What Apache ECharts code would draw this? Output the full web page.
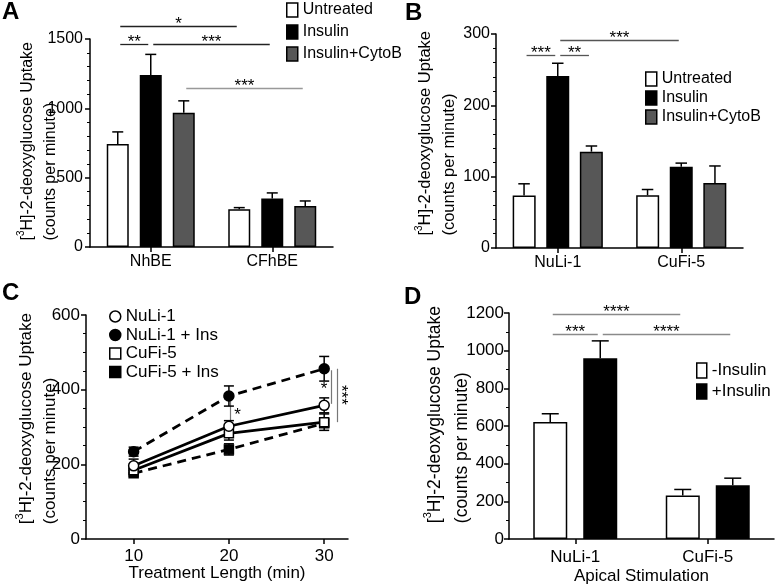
<!DOCTYPE html>
<html><head><meta charset="utf-8">
<script src="https://cdn.jsdelivr.net/npm/echarts@6/dist/echarts.min.js"></script>
<style>html,body{margin:0;padding:0;background:#fff}#c{width:776px;height:585px}</style>
</head><body><div id="c"></div><script>
// ---------- DATA ----------
// Panel A
const catA = ['NhBE', 'CFhBE'];
const untreatedA = [742, 272];
const untreatedAErr = [88, 12];
const insulinA = [1240, 349];
const insulinAErr = [149, 41];
const cytoA = [968, 296];
const cytoAErr = [86, 36];
// significance: [cat1, bar1, cat2, bar2, level, label]
const sigA = [[0, 0, 1, 0, 1596, '*'], [0, 0, 0, 1, 1464, '**'], [0, 1, 1, 1, 1464, '***'], [0, 2, 1, 2, 1148, '***']];

// Panel B
const catB = ['NuLi-1', 'CuFi-5'];
const untreatedB = [73.5, 74];
const untreatedBErr = [16.5, 8];
const insulinB = [241, 114];
const insulinBErr = [18, 5];
const cytoB = [135, 91];
const cytoBErr = [8, 24];
const sigB = [[0, 0, 0, 1, 271, '***'], [0, 1, 0, 2, 271, '**'], [0, 1, 1, 1, 292, '***']];

// Panel C
const timesC = [10, 20, 30];
const nuli = [196, 302, 358];
const nuliErr = [18, 15, 20];
const nuliIns = [234, 383, 456];
const nuliInsErr = [12, 27, 33];
const cufi = [184, 283, 313];
const cufiErr = [10, 18, 22];
const cufiIns = [176, 240, 310];
const cufiInsErr = [8, 15, 10];
// vertical significance lines: [x, y1, y2]; labels: [x, y, text]
const sigCLines = [[20.1, 380, 305], [30.7, 452, 362], [31.3, 456, 313]];
const sigCLabels = [[20.9, 340, '*'], [30, 410, '*'], [32.0, 386, '***']];

// Panel D
const catD = ['NuLi-1', 'CuFi-5'];
const minusInsD = [621, 231];
const minusInsDErr = [44, 32];
const plusInsD = [960, 286];
const plusInsDErr = [92, 37];
const sigD = [[0, 0, 1, 0, 1197, '****'], [0, 0, 0, 1, 1087, '***'], [0, 1, 1, 1, 1087, '****']];

// ---------- HELPERS ----------
const FONT = 'Liberation Sans, Arial, Helvetica, sans-serif';
const chart = echarts.init(document.getElementById('c'), null, {renderer: 'canvas'});

function yTitleGraphic(left, top, fs, lh) {
  const sfs = Math.round(fs * 0.62);
  return {
    type: 'text', left: left, top: top, rotation: Math.PI / 2, silent: true,
    style: {
      text: '{t|[}{s|3}{t|H]-2-deoxyglucose Uptake}\n{t|(counts per minute)}',
      align: 'center', verticalAlign: 'middle', fill: '#000',
      font: fs + 'px ' + FONT,
      rich: {
        t: {fontSize: fs, fontFamily: FONT, fill: '#000', lineHeight: lh},
        s: {fontSize: sfs, fontFamily: FONT, fill: '#000', verticalAlign: 'top', lineHeight: sfs + 3}
      }
    }
  };
}

function valueY(grid, max, interval, minorSplit, fs, labelMargin) {
  return {
    type: 'value', gridIndex: grid, min: 0, max: max, interval: interval,
    axisLine: {show: true, lineStyle: {color: '#000', width: 1.5}},
    axisTick: {show: true, length: 5, lineStyle: {color: '#000', width: 1.5}},
    minorTick: {show: true, splitNumber: minorSplit, length: 3, lineStyle: {color: '#000', width: 1}},
    axisLabel: {color: '#000', fontSize: fs, fontFamily: FONT, margin: labelMargin, formatter: (v) => String(v)},
    splitLine: {show: false}, minorSplitLine: {show: false}
  };
}

function catX(grid, cats, fs, margin, name, nameGap) {
  const o = {
    type: 'category', gridIndex: grid, data: cats, boundaryGap: true,
    axisLine: {show: true, lineStyle: {color: '#000', width: 1.5}},
    axisTick: {show: true, alignWithLabel: true, length: 5, lineStyle: {color: '#000', width: 1.5}},
    axisLabel: {color: '#000', fontSize: fs, fontFamily: FONT, margin: margin},
    splitLine: {show: false}
  };
  if (name) {
    o.name = name; o.nameLocation = 'middle'; o.nameGap = nameGap; o.nameMoveOverlap = false;
    o.nameTextStyle = {color: '#000', fontSize: fs, fontFamily: FONT};
  }
  return o;
}

function barSeries(name, grid, values, color, bw, gap) {
  return {
    name: name, type: 'bar', xAxisIndex: grid, yAxisIndex: grid, data: values,
    barWidth: bw, barGap: gap,
    itemStyle: {color: color, borderColor: '#000', borderWidth: 1.5},
    emphasis: {disabled: true}, z: 2
  };
}

function errSeries(grid, values, errs, offset, capHalf) {
  return {
    type: 'custom', xAxisIndex: grid, yAxisIndex: grid, z: 3, silent: true,
    data: values.map((v, i) => [i, v, errs[i]]),
    encode: {x: 0, y: 1},
    renderItem: function (params, api) {
      const c = api.value(0), v = api.value(1), e = api.value(2);
      const p0 = api.coord([c, v]);
      const p1 = api.coord([c, v + e]);
      const cx = p0[0] + offset;
      return {type: 'group', children: [
        {type: 'line', shape: {x1: cx, y1: p0[1], x2: cx, y2: p1[1]}, style: {stroke: '#000', lineWidth: 1.5}},
        {type: 'line', shape: {x1: cx - capHalf, y1: p1[1], x2: cx + capHalf, y2: p1[1]}, style: {stroke: '#000', lineWidth: 1.5}}
      ]};
    }
  };
}

function sigSeries(grid, sigs, step, nBars, colors, fs) {
  return {
    type: 'custom', xAxisIndex: grid, yAxisIndex: grid, z: 4, silent: true,
    data: sigs.map(s => [s[0], s[4]]),
    encode: {x: 0, y: 1},
    renderItem: function (params, api) {
      const s = sigs[params.dataIndex];
      const off = (b) => (b - (nBars - 1) / 2) * step;
      const pa = api.coord([s[0], s[4]]);
      const pb = api.coord([s[2], s[4]]);
      const x1 = pa[0] + off(s[1]) + 2.5, x2 = pb[0] + off(s[3]) - 2.5;
      const y = Math.round(pa[1]) + 0.5;
      return {type: 'group', children: [
        {type: 'line', shape: {x1: x1, y1: y, x2: x2, y2: y}, style: {stroke: colors[params.dataIndex], lineWidth: 1.3}},
        {type: 'text', style: {text: s[5], x: (x1 + x2) / 2, y: y - 2, align: 'center', verticalAlign: 'middle',
          font: fs + 'px ' + FONT, fill: '#000'}}
      ]};
    }
  };
}

function errSeriesC(values, errs) {
  return {
    type: 'custom', xAxisIndex: 2, yAxisIndex: 2, z: 1, silent: true,
    data: values.map((v, i) => [timesC[i], v, errs[i]]),
    encode: {x: 0, y: 1},
    renderItem: function (params, api) {
      const x = api.value(0), v = api.value(1), e = api.value(2);
      const pT = api.coord([x, v + e]), pB = api.coord([x, v - e]);
      const cx = pT[0];
      const st = {stroke: '#000', lineWidth: 1.5};
      return {type: 'group', children: [
        {type: 'line', shape: {x1: cx, y1: pT[1], x2: cx, y2: pB[1]}, style: st},
        {type: 'line', shape: {x1: cx - 5, y1: pT[1], x2: cx + 5, y2: pT[1]}, style: st},
        {type: 'line', shape: {x1: cx - 5, y1: pB[1], x2: cx + 5, y2: pB[1]}, style: st}
      ]};
    }
  };
}

function lineSeries(name, values, symbol, fill, dashed, size) {
  return {
    name: name, type: 'line', xAxisIndex: 2, yAxisIndex: 2,
    data: values.map((v, i) => [timesC[i], v]),
    symbol: symbol, symbolSize: size, showSymbol: true,
    lineStyle: {color: '#000', width: 2.8, type: dashed ? [9, 6] : 'solid'},
    itemStyle: {color: fill, borderColor: '#000', borderWidth: 1.5},
    emphasis: {disabled: true}, z: 2
  };
}

// bar geometry (px)
const bwA = 22, stepA = 33;
const bwB = 23, stepB = 33.7;
const bwD = 34, stepD = 50;
const GRAY = '#575757';
const boxW = {color: '#fff', borderColor: '#000', borderWidth: 1.5};
const boxK = {color: '#000', borderColor: '#000', borderWidth: 1.5};
const boxG = {color: GRAY, borderColor: '#000', borderWidth: 1.5};

const option = {
  animation: false,
  backgroundColor: '#fff',
  textStyle: {fontFamily: FONT, color: '#000'},
  grid: [
    {left: 90, top: 39, width: 243, height: 208, outerBoundsMode: 'none'},
    {left: 496, top: 34, width: 247, height: 214, outerBoundsMode: 'none'},
    {left: 86, top: 315, width: 262, height: 224, outerBoundsMode: 'none'},
    {left: 509, top: 313, width: 265, height: 226, outerBoundsMode: 'none'}
  ],
  xAxis: [
    catX(0, catA, 16, 7),
    catX(1, catB, 16, 7),
    {
      type: 'value', gridIndex: 2, min: 5, max: 32.5,
      name: 'Treatment Length (min)', nameLocation: 'middle', nameGap: 26, nameMoveOverlap: false,
      nameTextStyle: {color: '#000', fontSize: 17, fontFamily: FONT},
      axisLine: {show: true, lineStyle: {color: '#000', width: 1.5}},
      axisTick: {show: true, length: 5, customValues: timesC, lineStyle: {color: '#000', width: 1.5}},
      axisLabel: {color: '#000', fontSize: 17, fontFamily: FONT, margin: 9, customValues: timesC},
      splitLine: {show: false}
    },
    catX(3, catD, 17, 10, 'Apical Stimulation', 29)
  ],
  yAxis: [
    valueY(0, 1500, 500, 5, 16, 7),
    valueY(1, 300, 100, 5, 16, 6),
    valueY(2, 600, 200, 4, 17, 6),
    valueY(3, 1200, 200, 2, 17, 5)
  ],
  legend: [
    {
      left: 281, top: -3, orient: 'vertical', itemWidth: 11, itemHeight: 14, itemGap: 6, selectedMode: false,
      textStyle: {fontSize: 16, fontFamily: FONT, color: '#000'},
      data: [
        {name: 'Untreated', icon: 'rect', itemStyle: boxW},
        {name: 'Insulin', icon: 'rect', itemStyle: boxK},
        {name: 'Insulin+CytoB', icon: 'rect', itemStyle: boxG}
      ]
    },
    {
      left: 640, top: 66, orient: 'vertical', itemWidth: 11, itemHeight: 14, itemGap: 3, selectedMode: false,
      textStyle: {fontSize: 16, fontFamily: FONT, color: '#000'},
      data: [
        {name: 'Untreated', icon: 'rect', itemStyle: boxW},
        {name: 'Insulin', icon: 'rect', itemStyle: boxK},
        {name: 'Insulin+CytoB', icon: 'rect', itemStyle: boxG}
      ]
    },
    {
      left: 104, top: 303, orient: 'vertical', itemWidth: 11, itemHeight: 11, itemGap: 1.5, selectedMode: false,
      textStyle: {fontSize: 17, fontFamily: FONT, color: '#000'},
      data: [
        {name: 'NuLi-1', icon: 'circle', itemStyle: boxW},
        {name: 'NuLi-1 + Ins', icon: 'circle', itemStyle: boxK},
        {name: 'CuFi-5', icon: 'rect', itemStyle: boxW},
        {name: 'CuFi-5 + Ins', icon: 'rect', itemStyle: boxK}
      ]
    },
    {
      left: 691, top: 357, orient: 'vertical', itemWidth: 10, itemHeight: 15, itemGap: 4, selectedMode: false,
      textStyle: {fontSize: 17, fontFamily: FONT, color: '#000'},
      data: [
        {name: '-Insulin', icon: 'rect', itemStyle: boxW},
        {name: '+Insulin', icon: 'rect', itemStyle: boxK}
      ]
    }
  ],
  graphic: [
    {type: 'text', left: 2, top: 0, style: {text: 'A', font: 'bold 24px ' + FONT, fill: '#000'}},
    {type: 'text', left: 405, top: 1, style: {text: 'B', font: 'bold 24px ' + FONT, fill: '#000'}},
    {type: 'text', left: 2, top: 281, style: {text: 'C', font: 'bold 24px ' + FONT, fill: '#000'}},
    {type: 'text', left: 404, top: 285, style: {text: 'D', font: 'bold 24px ' + FONT, fill: '#000'}},
    yTitleGraphic(16, 42, 16, 23),
    yTitleGraphic(414, 31, 16.5, 23.5),
    yTitleGraphic(14, 313, 17, 24),
    yTitleGraphic(422, 306, 17.5, 27)
  ],
  series: [
    // Panel A
    barSeries('Untreated', 0, untreatedA, '#fff', bwA, '50%'),
    barSeries('Insulin', 0, insulinA, '#000', bwA, '50%'),
    barSeries('Insulin+CytoB', 0, cytoA, GRAY, bwA, '50%'),
    errSeries(0, untreatedA, untreatedAErr, -stepA, bwA / 4),
    errSeries(0, insulinA, insulinAErr, 0, bwA / 4),
    errSeries(0, cytoA, cytoAErr, stepA, bwA / 4),
    sigSeries(0, sigA, stepA, 3, ['#222', '#222', '#222', '#999'], 17),
    // Panel B
    barSeries('Untreated', 1, untreatedB, '#fff', bwB, '46%'),
    barSeries('Insulin', 1, insulinB, '#000', bwB, '46%'),
    barSeries('Insulin+CytoB', 1, cytoB, GRAY, bwB, '46%'),
    errSeries(1, untreatedB, untreatedBErr, -stepB, bwB / 4),
    errSeries(1, insulinB, insulinBErr, 0, bwB / 4),
    errSeries(1, cytoB, cytoBErr, stepB, bwB / 4),
    sigSeries(1, sigB, stepB, 3, ['#555', '#555', '#555'], 17),
    // Panel C
    errSeriesC(nuli, nuliErr),
    errSeriesC(nuliIns, nuliInsErr),
    errSeriesC(cufi, cufiErr),
    errSeriesC(cufiIns, cufiInsErr),
    lineSeries('CuFi-5 + Ins', cufiIns, 'rect', '#000', true, 9),
    lineSeries('NuLi-1 + Ins', nuliIns, 'circle', '#000', true, 10),
    lineSeries('CuFi-5', cufi, 'rect', '#fff', false, 9),
    lineSeries('NuLi-1', nuli, 'circle', '#fff', false, 10),
    {
      type: 'custom', xAxisIndex: 2, yAxisIndex: 2, z: 0, silent: true,
      data: sigCLines, encode: {x: 0, y: [1, 2]},
      renderItem: function (params, api) {
        const a = api.coord([api.value(0), api.value(1)]);
        const b = api.coord([api.value(0), api.value(2)]);
        const x = Math.round(a[0]) + 0.5;
        return {type: 'line', shape: {x1: x, y1: a[1], x2: x, y2: b[1]}, style: {stroke: '#777', lineWidth: 1.2}};
      }
    },
    {
      type: 'custom', xAxisIndex: 2, yAxisIndex: 2, z: 5, silent: true,
      data: sigCLabels.map(s => [s[0], s[1]]), encode: {x: 0, y: 1},
      renderItem: function (params, api) {
        const s = sigCLabels[params.dataIndex];
        const p = api.coord([s[0], s[1]]);
        const vertical = s[2].length > 1;
        return {type: 'text', x: p[0], y: p[1], rotation: vertical ? -Math.PI / 2 : 0,
          style: {text: s[2], x: 0, y: 3, align: 'center', verticalAlign: 'middle', font: '17px ' + FONT, fill: '#000'}};
      }
    },
    // Panel D
    barSeries('-Insulin', 3, minusInsD, '#fff', bwD, '47%'),
    barSeries('+Insulin', 3, plusInsD, '#000', bwD, '47%'),
    errSeries(3, minusInsD, minusInsDErr, -stepD / 2, bwD / 4),
    errSeries(3, plusInsD, plusInsDErr, stepD / 2, bwD / 4),
    sigSeries(3, sigD, stepD, 2, ['#8a8a8a', '#8a8a8a', '#8a8a8a'], 17)
  ]
};
chart.setOption(option);
</script></body></html>
